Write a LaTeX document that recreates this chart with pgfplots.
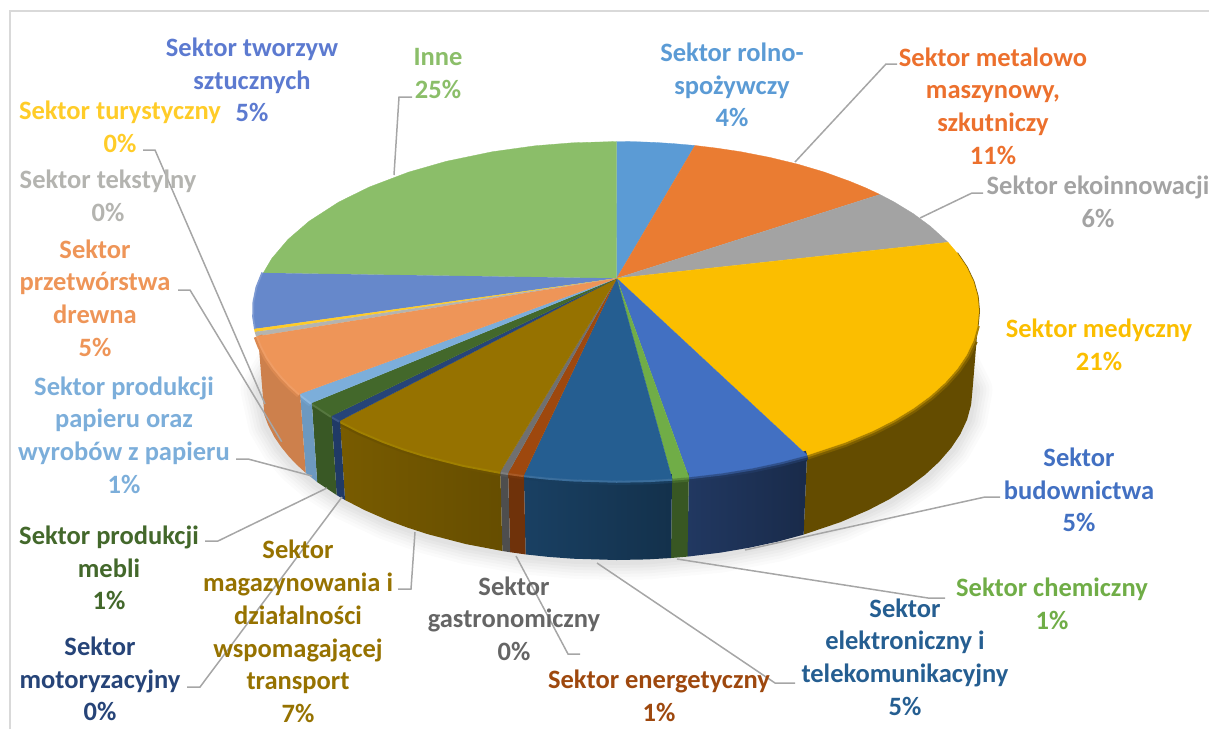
\documentclass[border=0pt]{standalone}
\usepackage{fontspec}
\setmainfont{Carlito}
\usepackage{pgfplots}
\pgfplotsset{compat=1.18}
\newcommand\lab{\fontsize{26.5}{32.7}\selectfont\bfseries}
% #1 rim, #2 bottom reversed, #3 top colour, #4 side style, #5 bevel colour, #6 highlight colour
\newcommand\frontslice[6]{%
  \addplot[draw=none,#4] coordinates {#1 #2};
  \addplot[draw=#5,line width=9pt] coordinates {#1};
  \addplot[draw=#6,line width=4.5pt] coordinates {#1};
  \addplot[fill=#3,draw=#3,line width=0.3pt] coordinates {(616.7,278.3) #1};
}
\newcommand\backslice[2]{%
  \addplot[fill=#2,draw=#2,line width=0.3pt] coordinates {(616.7,278.3) #1};
}
\newcommand\leader[1]{\addplot[draw=leadc,line width=1.5pt] coordinates {#1};}
\newcommand\shadow[2]{\addplot[draw=black,opacity=#1,line width=#2,line join=round,line cap=round] coordinates {(945,335)(972.5,390)(967.1,419.5)(951,448.1)(924.8,475)(889.2,499.3)(840.5,522.1)(778.1,541.5)(720.6,552.6)(647.5,559.4)(616.5,560)(573.1,558.7)(525.6,554.4)(466,544.1)(427.9,534.2)(387.7,520.2)(345,500)(317.2,482.1)(296.5,464.5)(281,446.7)(268.3,425.3)(260.5,390)(290,340)};}
\definecolor{leadc}{HTML}{A6A6A6}
\definecolor{cTworz}{HTML}{6688CB}
\definecolor{cInne}{HTML}{8BBE69}
\definecolor{cRolno}{HTML}{5B9BD5}
\definecolor{cMetal}{HTML}{EA7C32}
\definecolor{cEko}{HTML}{A3A3A3}
\definecolor{cMed}{HTML}{FBBE00}
\definecolor{cBud}{HTML}{4270C2}
\definecolor{cChem}{HTML}{70AD47}
\definecolor{cElek}{HTML}{255E91}
\definecolor{cEner}{HTML}{9E480E}
\definecolor{cGast}{HTML}{707070}
\definecolor{cMag}{HTML}{967200}
\definecolor{cMoto}{HTML}{264478}
\definecolor{cMebl}{HTML}{43682B}
\definecolor{cPap}{HTML}{7CAEDA}
\definecolor{cDrew}{HTML}{EE9558}
\definecolor{cTeks}{HTML}{B4B4B0}
\definecolor{cTury}{HTML}{FFCC28}
\begin{document}
\begin{tikzpicture}[x=1pt,y=1pt]
\useasboundingbox (0,0) rectangle (1209pt,729pt);
\begin{axis}[at={(0pt,0pt)},anchor=south west,width=1209pt,height=729pt,scale only axis,
  xmin=0,xmax=1209,ymin=0,ymax=729,y dir=reverse,hide axis,clip=false]
% frame
\addplot[draw=black!15,line width=1.8pt] coordinates {(10,729)(10,11)(1209,11)};
% soft shadow below the pie
\shadow{0.014}{40pt}
\shadow{0.016}{34pt}
\shadow{0.018}{28pt}
\shadow{0.02}{22pt}
\shadow{0.022}{16pt}
\shadow{0.024}{10pt}
% back slices
\backslice{(616.5,141.5)(635.5,141.7)(654.4,142.4)(673.2,143.6)(695,145.5)}{cRolno}
\backslice{(695,145.5)(716.4,148.1)(740.5,151.7)(769.7,157.4)(797.8,164.2)(824.4,172.1)(849.5,181.2)(866,188)(879.9,194.5)}{cMetal}
\backslice{(879.9,194.5)(894.2,202)(913.5,213.8)(930.4,226.3)(948,242.3)}{cEko}
\addplot[draw=cMed!50!black,line width=2pt] coordinates {(957.1,253)(966.6,267.1)(973.5,281.6)(977.6,296.2)(979,311)(977.6,325.8)};
\backslice{(263.3,272.9)(271.7,258.6)(288,239.4)(309.1,221.2)(338.8,202)(369.3,187)(408.6,172.1)(446.3,161.3)(492.5,151.7)(535,145.8)(572.3,142.8)(616.5,141.5)}{cInne}
% left slices with a lighter rim
\addplot[draw=cTworz!85!white,line width=4pt] coordinates {(256,328.7)(254.2,316.9)(254.5,302.1)(257.5,287.4)(263.3,272.9)};
\backslice{(256,328.7)(254.2,316.9)(254.5,302.1)(257.5,287.4)(263.3,272.9)}{cTworz}
\addplot[draw=cTury,line width=4pt] coordinates {(256.7,331.7)(256,328.7)};
\backslice{(256.7,331.7)(256,328.7)}{cTury}
\addplot[draw=cTeks,line width=4pt] coordinates {(258,336.1)(256.7,331.7)};
\backslice{(258,336.1)(256.7,331.7)}{cTeks}
% front slices
\addplot[draw=none,fill=cMed!40!black] coordinates {(979,311)(977.6,325.8)(973.5,340.4)(966.6,354.9)(957.1,369)(945,382.6)(930.4,395.8)(913.5,408.2)(894.2,420)(872.8,430.9)(844.6,442.7)(807,455.2)(803.6,534.6)(840.5,522.1)(868.2,510.2)(889.2,499.3)(908.1,487.5)(924.8,475)(939.1,461.8)(951,448.1)(960.4,434)(967.1,419.5)(971.1,404.8)(972.5,390)};
\addplot[draw=cMed!50!black,line width=9pt] coordinates {(973.5,340.4)(966.6,354.9)(957.1,369)(945,382.6)(930.4,395.8)(913.5,408.2)(894.2,420)(872.8,430.9)(844.6,442.7)(807,455.2)};
\addplot[draw=cMed!68!black,line width=4.5pt] coordinates {(977.6,325.8)(973.5,340.4)(966.6,354.9)(957.1,369)(945,382.6)(930.4,395.8)(913.5,408.2)(894.2,420)(872.8,430.9)(844.6,442.7)(807,455.2)};
\backslice{(948,242.3)(957.1,253)(966.6,267.1)(973.5,281.6)(977.6,296.2)(979,311)(977.6,325.8)(973.5,340.4)(966.6,354.9)(957.1,369)(945,382.6)(930.4,395.8)(913.5,408.2)(894.2,420)(872.8,430.9)(844.6,442.7)(807,455.2)}{cMed}
\frontslice{(807,455.2)(781.1,462)(752.3,468.2)(722.5,473.1)(688.8,477.1)}{(687.5,556.6)(720.6,552.6)(749.9,547.6)(778.1,541.5)(803.6,534.6)}{cBud}{left color=cBud!50!black,right color=cBud!38!black}{cBud!50!black}{cBud!72!black}
\frontslice{(688.8,477.1)(672,478.5)}{(671,558)(687.5,556.6)}{cChem}{fill=cChem!50!black}{cChem!60!black}{cChem!80!black}
\frontslice{(672,478.5)(648.1,479.9)(616.5,480.5)(572.3,479.2)(547.3,477.4)(523.9,474.9)}{(525.6,554.4)(548.6,556.9)(573.1,558.7)(616.5,560)(647.5,559.4)(671,558)}{cElek}{left color=cElek!68!black,right color=cElek!52!black}{cElek!65!black}{cElek!90!white}
\frontslice{(523.9,474.9)(508.1,472.7)}{(510.1,552.2)(525.6,554.4)}{cEner}{fill=cEner!70!black}{cEner!75!black}{cEner!90!white}
\frontslice{(508.1,472.7)(500.3,471.6)}{(502.4,551)(510.1,552.2)}{cGast}{fill=cGast!70!black}{cGast!75!black}{cGast!90!white}
\frontslice{(500.3,471.6)(463.3,464.6)(424.4,454.7)(403.4,448.1)(383.5,440.8)(360.2,430.9)(340,420.6)}{(345,500)(364.8,510.2)(387.7,520.2)(407.2,527.5)(427.9,534.2)(466,544.1)(502.4,551)}{cMag}{left color=cMag!80!black,right color=cMag!68!black}{cMag!72!black}{cMag!90!yellow}
\frontslice{(340,420.6)(331.6,415.8)}{(336.7,495.1)(345,500)}{cMoto}{fill=cMoto!85!black}{cMoto!85!black}{cMoto!90!white}
\frontslice{(331.6,415.8)(311.8,402.8)}{(317.2,482.1)(336.7,495.1)}{cMebl}{fill=cMebl!85!black}{cMebl!85!black}{cMebl!90!white}
\frontslice{(311.8,402.8)(300.1,393.7)}{(305.7,472.9)(317.2,482.1)}{cPap}{fill=cPap!88!black}{cPap!92!black}{cPap!85!white}
\frontslice{(300.1,393.7)(290.7,385.3)(282.8,377.2)(274.8,367.6)(268,357.7)(262,346.2)(258,336.1)}{(264.4,415.1)(268.3,425.3)(274.3,436.9)(281,446.7)(288.8,456.4)(296.5,464.5)(305.7,472.9)}{cDrew}{fill=cDrew!86!black}{cDrew!92!black}{cDrew!92!white}
% leader lines
\leader{(394,175)(399,97)(412,97)}
\leader{(795,162)(886,64)(897,64)}
\leader{(920,218)(972,193)(983,193)}
\leader{(745,550)(985,497)(1000,497)}
\leader{(677,559)(928,598)(945,598)}
\leader{(597,563)(775,683)(795,683)}
\leader{(516,556)(568,654)(580,654)}
\leader{(415,532)(411,589)(398,589)}
\leader{(342,497)(200,687)(187,687)}
\leader{(327,488)(218,541)(205,541)}
\leader{(312,476)(248,459)(236,459)}
\leader{(281.7,441.7)(190,290)(178,290)}
\leader{(265,404)(155,150)(143,150)}
% labels
\path[every node/.style={align=center,inner sep=0pt,font=\lab}]
 node[text=cTworz!90!blue] at (axis cs:252,80) {Sektor tworzyw\\sztucznych\\5\%}
 node[text=cInne] at (axis cs:438,73.5) {Inne\\25\%}
 node[text=cRolno] at (axis cs:732,85) {Sektor rolno-\\spożywczy\\4\%}
 node[text=cMetal!90!red] at (axis cs:993,106) {Sektor metalowo\\maszynowy,\\szkutniczy\\11\%}
 node[text=cEko] at (axis cs:1098,201.5) {Sektor ekoinnowacji\\6\%}
 node[text=cMed] at (axis cs:1099,344.5) {Sektor medyczny\\21\%}
 node[text=cBud] at (axis cs:1079,490) {Sektor\\budownictwa\\5\%}
 node[text=cChem] at (axis cs:1052,603.5) {Sektor chemiczny\\1\%}
 node[text=cElek] at (axis cs:905,657) {Sektor\\elektroniczny i\\telekomunikacyjny\\5\%}
 node[text=cEner] at (axis cs:659,696) {Sektor energetyczny\\1\%}
 node[text=cGast!90!black] at (axis cs:514,618.5) {Sektor\\gastronomiczny\\0\%}
 node[text=cMag] at (axis cs:298,631.5) {Sektor\\magazynowania i\\działalności\\wspomagającej\\transport\\7\%}
 node[text=cMoto] at (axis cs:100,679) {Sektor\\motoryzacyjny\\0\%}
 node[text=cMebl] at (axis cs:109,568) {Sektor produkcji\\mebli\\1\%}
 node[text=cPap] at (axis cs:124,435) {Sektor produkcji\\papieru oraz\\wyrobów z papieru\\1\%}
 node[text=cDrew] at (axis cs:95,298) {Sektor\\przetwórstwa\\drewna\\5\%}
 node[text=cTeks] at (axis cs:108,196) {Sektor tekstylny\\0\%}
 node[text=cTury] at (axis cs:120,126.5) {Sektor turystyczny\\0\%};
\end{axis}
\end{tikzpicture}
\end{document}
